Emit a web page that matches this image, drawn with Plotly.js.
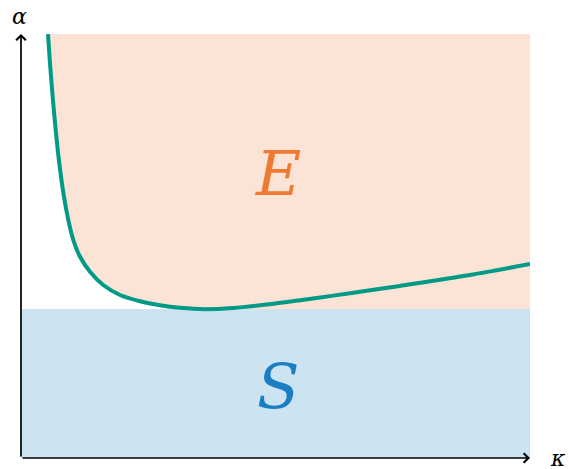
<!DOCTYPE html>
<html>
<head>
<meta charset="utf-8">
<script src="https://cdn.plot.ly/plotly-3.0.1.min.js"></script>
<style>
  html, body { margin: 0; padding: 0; background: #ffffff; }
  #chart { width: 569px; height: 469px; }
</style>
</head>
<body>
<div id="chart"></div>
<script>
// Stability boundary alpha(kappa)
const kappa = [0.265, 0.285, 0.311, 0.341, 0.376, 0.422, 0.465, 0.514, 0.580, 0.678,
               0.808, 0.973, 1.169, 1.365, 1.562, 1.807, 2.085, 2.414, 2.741, 3.068,
               3.396, 3.723, 4.361, 5.000];
const alpha = [2.846, 2.649, 2.425, 2.201, 1.978, 1.754, 1.597, 1.463, 1.351, 1.250,
               1.161, 1.094, 1.052, 1.025, 1.008, 0.999, 1.007, 1.030, 1.059, 1.090,
               1.122, 1.155, 1.223, 1.302];

// Region levels and axis extents
const stableLevel = 1.0;   // upper edge of the S region
const kappaMax = 5.0;
const alphaMax = 2.846;

// Region labels
const regionNames = ['E', 'S'];
const regionAt = [[2.52, 1.91], [2.52, 0.48]];

const colCurve = '#009a87';
const colE = '#fbe3d6';
const colS = '#cce3f1';
const colEText = '#ef7b33';
const colSText = '#1b7ec3';

// E region: right of the descending branch, above the S level
let iMin = 0;
alpha.forEach((a, i) => { if (a < alpha[iMin]) iMin = i; });
const eX = [], eY = [];
for (let i = 0; i <= iMin; i++) { eX.push(kappa[i]); eY.push(Math.max(alpha[i], stableLevel)); }
eX.push(kappaMax, kappaMax, kappa[0], kappa[0]);
eY.push(stableLevel, alphaMax, alphaMax, alpha[0]);

const traces = [
  { x: [0, kappaMax, kappaMax, 0, 0], y: [0, 0, stableLevel, stableLevel, 0],
    mode: 'lines', fill: 'toself', fillcolor: colS, line: { width: 0 }, hoverinfo: 'skip' },
  { x: eX, y: eY, mode: 'lines', fill: 'toself', fillcolor: colE, line: { width: 0 },
    hoverinfo: 'skip' },
  { x: kappa, y: alpha, mode: 'lines', line: { color: colCurve, width: 4, shape: 'spline', smoothing: 0.8 },
    hoverinfo: 'skip' }
];

const serif = 'DejaVu Serif';

const annotations = [
  // axes with arrow heads
  { x: kappaMax, y: 0, ax: 0, ay: 0, xref: 'x', yref: 'y', axref: 'x', ayref: 'y',
    text: '', showarrow: true, arrowhead: 4, arrowsize: 1.1, arrowwidth: 1.7, arrowcolor: '#000' },
  { x: 0, y: alphaMax, ax: 0, ay: 0, xref: 'x', yref: 'y', axref: 'x', ayref: 'y',
    text: '', showarrow: true, arrowhead: 4, arrowsize: 1.1, arrowwidth: 1.7, arrowcolor: '#000' },
  // axis names
  { x: 0, y: alphaMax, xref: 'x', yref: 'y', xshift: -2, yshift: 18, height: 18, text: '<i>α</i>',
    showarrow: false, font: { family: serif, size: 22, color: '#000' } },
  { x: kappaMax, y: 0, xref: 'x', yref: 'y', xshift: 28, yshift: 0, height: 16, text: '<i>κ</i>',
    showarrow: false, font: { family: serif, size: 22, color: '#000' } }
];
regionNames.forEach((n, i) => {
  annotations.push({ x: regionAt[i][0], y: regionAt[i][1], xref: 'x', yref: 'y',
    text: '<i>' + n + '</i>', showarrow: false,
    font: { family: serif, size: 62, color: i === 0 ? colEText : colSText } });
});

const layout = {
  width: 569, height: 469,
  margin: { l: 21, r: 39, t: 34, b: 11 },
  paper_bgcolor: '#ffffff', plot_bgcolor: '#ffffff',
  showlegend: false,
  xaxis: { range: [0, kappaMax], visible: false, fixedrange: true },
  yaxis: { range: [0, alphaMax], visible: false, fixedrange: true },
  annotations: annotations
};

Plotly.newPlot('chart', traces, layout, { displayModeBar: false, staticPlot: true });
</script>
</body>
</html>
